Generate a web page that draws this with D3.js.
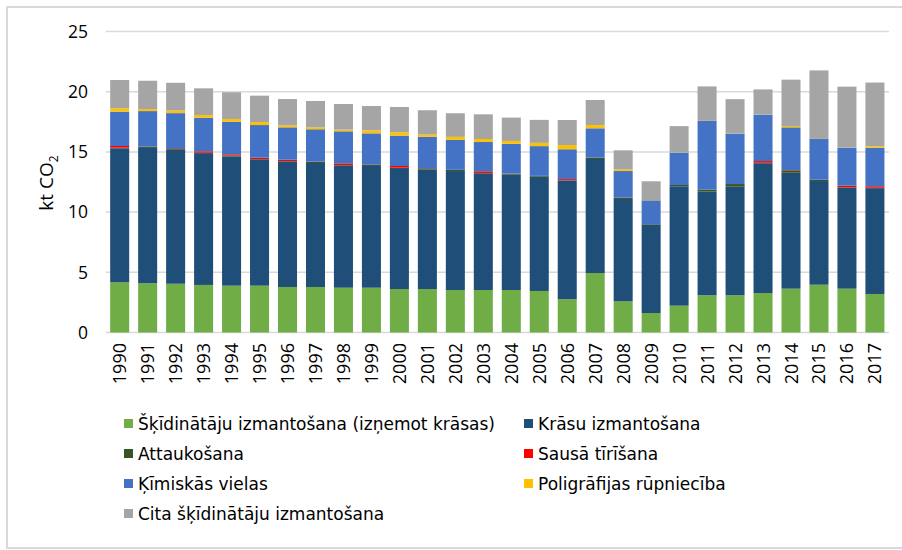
<!DOCTYPE html>
<html>
<head>
<meta charset="utf-8">
<script src="https://cdn.jsdelivr.net/npm/d3@7"></script>
<style>
  body { margin: 0; background: #fff; }
  svg { display: block; }
</style>
</head>
<body>
<div id="chart"></div>
<script>
// values in kt CO2
const years = d3.range(1990, 2018).map(String);
const solvents = [4.17,4.09,4.05,3.95,3.89,3.89,3.78,3.78,3.72,3.72,3.61,3.61,3.53,3.53,3.53,3.45,2.76,4.94,2.59,1.62,2.23,3.09,3.09,3.28,3.64,3.97,3.64,3.2];
const paints = [11.13,11.24,11.17,10.95,10.73,10.49,10.43,10.30,10.16,10.11,10.05,9.94,9.88,9.69,9.58,9.49,9.86,9.47,8.50,7.35,9.91,8.61,9.02,10.78,9.63,8.61,8.40,8.79];
const degreasing = [0.05,0.08,0.08,0.03,0.08,0.03,0.03,0.09,0.03,0.08,0.03,0.09,0.09,0.03,0.08,0.06,0.02,0.10,0.10,0.04,0.11,0.16,0.22,0.04,0.20,0.11,0.04,0.04];
const dryCleaning = [0.14,0.02,0.02,0.12,0.10,0.11,0.11,0.02,0.14,0.02,0.14,0.01,0.01,0.14,0.01,0.01,0.10,0.01,0.01,0,0,0,0,0.14,0.03,0,0.13,0.12];
const chemicals = [2.85,2.96,2.90,2.79,2.71,2.71,2.69,2.69,2.66,2.61,2.52,2.60,2.49,2.43,2.47,2.47,2.48,2.44,2.21,1.97,2.68,5.71,4.18,3.85,3.54,3.38,3.13,3.19];
const printing = [0.28,0.17,0.22,0.22,0.22,0.25,0.17,0.16,0.14,0.25,0.28,0.19,0.25,0.25,0.24,0.27,0.35,0.27,0.14,0.02,0.01,0.01,0.01,0.01,0.11,0.01,0.01,0.13];
const other = [2.35,2.35,2.30,2.22,2.22,2.19,2.18,2.19,2.13,2.02,2.10,2.02,1.96,2.05,1.94,1.91,2.08,2.08,1.58,1.56,2.20,2.86,2.86,2.09,3.85,5.69,5.07,5.29];

const seriesNames = [
  "Šķīdinātāju izmantošana (izņemot krāsas)",
  "Krāsu izmantošana",
  "Attaukošana",
  "Sausā tīrīšana",
  "Ķīmiskās vielas",
  "Poligrāfijas rūpniecība",
  "Cita šķīdinātāju izmantošana"
];
const seriesValues = [solvents, paints, degreasing, dryCleaning, chemicals, printing, other];
const colors = ["#70AD47", "#1F4E79", "#375623", "#FF0000", "#4472C4", "#FFC000", "#A5A5A5"];
const yTicks = [0, 5, 10, 15, 20, 25];

const width = 902, height = 550;

const rows = years.map((y, i) => {
  const r = { year: y };
  seriesNames.forEach((s, k) => { r[s] = seriesValues[k][i]; });
  return r;
});

const svg = d3.select("#chart").append("svg")
  .attr("width", width).attr("height", height);

// chart frame (only left/top visible in the picture)
svg.append("rect")
  .attr("x", 7).attr("y", 7)
  .attr("width", 902).attr("height", 541)
  .attr("fill", "none").attr("stroke", "#d9d9d9").attr("stroke-width", 2);

const x = d3.scaleBand().domain(years).range([105.7, 888.9])
  .paddingInner(0.32).paddingOuter(0.16);
const y = d3.scaleLinear().domain([0, 25]).range([332.5, 31.5]);

// gridlines
svg.append("g").selectAll("line").data(yTicks).join("line")
  .attr("x1", 105.7).attr("x2", 888.9)
  .attr("y1", d => y(d)).attr("y2", d => y(d))
  .attr("stroke", "#d9d9d9").attr("stroke-width", 1.5);

// y tick labels
svg.append("g").selectAll("text").data(yTicks).join("text")
  .attr("x", 88).attr("y", d => y(d))
  .attr("dy", "0.36em")
  .attr("text-anchor", "end")
  .attr("font-family", "Open Sans, sans-serif")
  .attr("font-size", 17.5)
  .attr("fill", "#000")
  .text(d => d);

// y axis title
const title = svg.append("text")
  .attr("transform", "translate(53,183) rotate(-90)")
  .attr("text-anchor", "middle")
  .attr("font-family", "Open Sans, sans-serif")
  .attr("font-size", 19)
  .attr("fill", "#000");
title.append("tspan").text("kt CO");
title.append("tspan").attr("font-size", 12).attr("dy", 5).text("2");

// stacked bars
const stack = d3.stack().keys(seriesNames);
const layers = stack(rows);

svg.append("g").selectAll("g").data(layers).join("g")
  .attr("fill", (d, i) => colors[i])
  .selectAll("rect").data(d => d).join("rect")
  .attr("x", d => x(d.data.year))
  .attr("width", x.bandwidth())
  .attr("y", d => y(d[1]))
  .attr("height", d => Math.max(0, y(d[0]) - y(d[1])));

// x labels
svg.append("g").selectAll("text").data(years).join("text")
  .attr("transform", d => `translate(${x(d) + x.bandwidth() / 2 + 6.5},343) rotate(-90)`)
  .attr("text-anchor", "end")
  .attr("font-family", "Open Sans, sans-serif")
  .attr("font-size", 18)
  .attr("fill", "#000")
  .text(d => d);

// legend
const legendPos = seriesNames.map((s, i) => ({
  name: s,
  color: colors[i],
  lx: i % 2 === 0 ? 124 : 524,
  ly: 424 + Math.floor(i / 2) * 30
}));
const lg = svg.append("g").selectAll("g").data(legendPos).join("g")
  .attr("transform", d => `translate(${d.lx},${d.ly})`);
lg.append("rect")
  .attr("x", 0).attr("y", -5).attr("width", 9).attr("height", 9)
  .attr("fill", d => d.color);
lg.append("text")
  .attr("x", 14).attr("y", 0).attr("dy", "0.36em")
  .attr("font-family", "DejaVu Sans, sans-serif")
  .attr("font-size", 17)
  .attr("fill", "#000")
  .text(d => d.name);
</script>
</body>
</html>
